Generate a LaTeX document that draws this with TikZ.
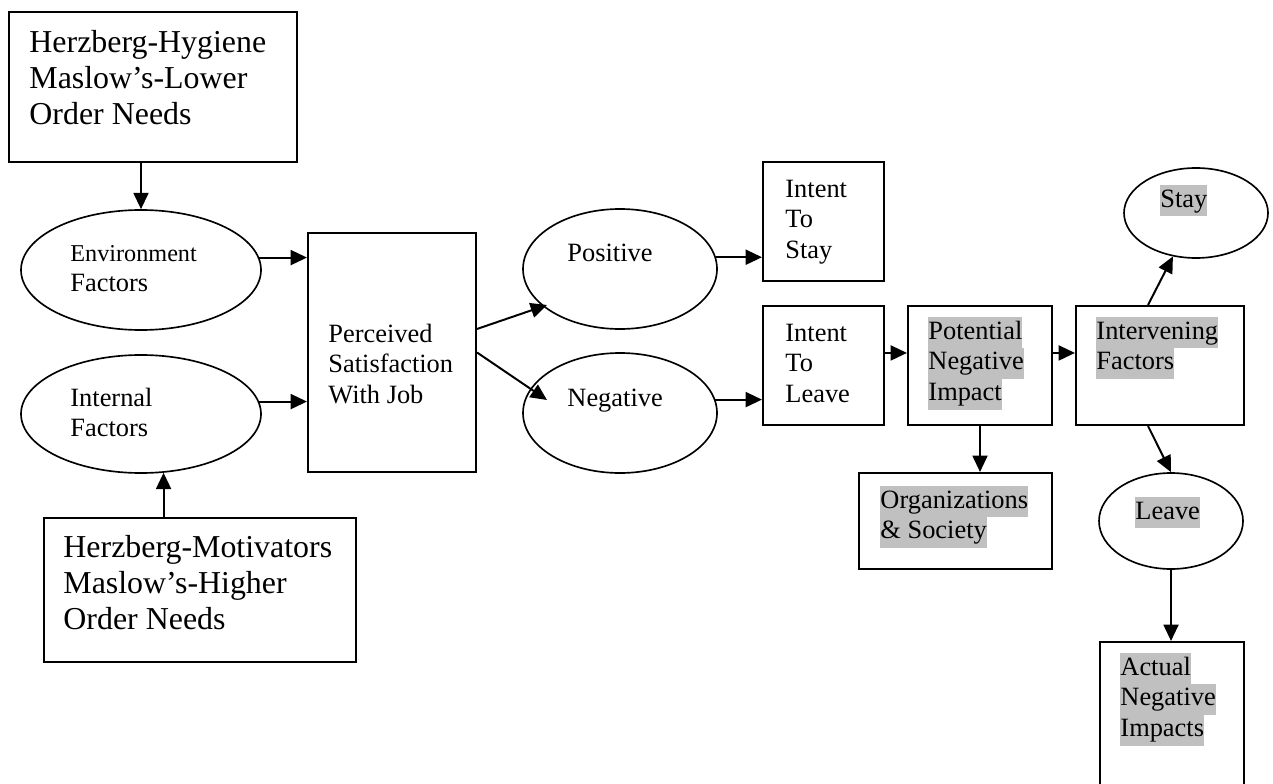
\documentclass[tikz,border=0pt]{standalone}
\usepackage{fontspec}
\setmainfont{Liberation Serif}
\usetikzlibrary{arrows.meta,shapes.geometric,calc}
\definecolor{hlgray}{HTML}{C0C0C0}
\newcommand{\pxu}{0.4545pt}
\newcommand{\twelve}{\fontsize{12}{14}\selectfont}
\newcommand{\fourteen}{\fontsize{14.5}{16.4}\selectfont}
\newcommand{\hlline}[1]{{\setlength{\fboxsep}{0pt}\colorbox{hlgray}{\strut #1}}}

\begin{document}
\begin{tikzpicture}[x=0.4545pt, y=-0.4545pt,
    box/.style={draw, rectangle, line width=0.95pt, inner sep=0pt},
    oval/.style={draw, ellipse, line width=0.75pt, inner sep=0pt},
    txt/.style={anchor=north west, inner sep=0pt, align=left, font=\twelve},
    conn/.style={-{Triangle[length=7.4pt,width=6.8pt]}, line width=0.9pt}]
  \useasboundingbox (0,0) rectangle (1273,783);
  \clip (0,0) rectangle (1273,783);

  % boxes
  \node[box, minimum width=288*\pxu, minimum height=150*\pxu] (hyg) at (153,87) {};
  \node[box, minimum width=312*\pxu, minimum height=144*\pxu] (mot) at (200,590) {};
  \node[box, minimum width=168*\pxu, minimum height=239*\pxu] (perc) at (392,352.5) {};
  \node[box, minimum width=121*\pxu, minimum height=119*\pxu] (stay) at (823.5,221.5) {};
  \node[box, minimum width=121*\pxu, minimum height=119*\pxu] (leave) at (823.5,365.5) {};
  \node[box, minimum width=144*\pxu, minimum height=119*\pxu] (pot) at (980,365.5) {};
  \node[box, minimum width=168*\pxu, minimum height=119*\pxu] (interv) at (1160,365.5) {};
  \node[box, minimum width=193*\pxu, minimum height=96*\pxu] (org) at (955.5,521) {};
  \node[box, minimum width=144*\pxu, minimum height=158*\pxu] (act) at (1172,721) {};

  % ovals
  \node[oval, minimum width=240*\pxu, minimum height=120*\pxu] (env) at (141,270) {};
  \node[oval, minimum width=240*\pxu, minimum height=118*\pxu] (int) at (141,414) {};
  \node[oval, minimum width=194*\pxu, minimum height=120*\pxu] (pos) at (620,269) {};
  \node[oval, minimum width=194*\pxu, minimum height=120*\pxu] (neg) at (620,413) {};
  \node[oval, minimum width=144*\pxu, minimum height=90*\pxu] (stayell) at (1196,213) {};
  \node[oval, minimum width=144*\pxu, minimum height=96*\pxu] (leaveell) at (1171,521) {};

  % texts
  \node[txt, font=\fourteen] (hygtxt) at (29,27) {\strut Herzberg-Hygiene\\Maslow’s-Lower\\Order Needs};
  \node[txt, font=\fourteen] (mottxt) at (63,532) {\strut Herzberg-Motivators\\Maslow’s-Higher\\Order Needs};
  \node[txt] (envtxt) at (70,239) {\strut{\fontsize{11}{14}\selectfont Environment}\\Factors};
  \node[txt] (inttxt) at (70,384) {\strut Internal\\Factors};
  \node[txt] (perctxt) at (328,320) {\strut Perceived\\Satisfaction\\With Job};
  \node[txt] (postxt) at (567,239) {\strut Positive};
  \node[txt] (negtxt) at (567,384) {\strut Negative};
  \node[txt] (staytxt) at (785,175) {\strut Intent\\To\\Stay};
  \node[txt] (leavetxt) at (785,319) {\strut Intent\\To\\Leave};
  \node[txt] (pottxt) at (928,317) {\hlline{Potential}\\\hlline{Negative}\\\hlline{Impact}};
  \node[txt] (intvtxt) at (1096,317) {\hlline{Intervening}\\\hlline{Factors}};
  \node[txt] (stayelltxt) at (1160,185) {\hlline{Stay}};
  \node[txt] (orgtxt) at (880,486) {\hlline{Organizations}\\\hlline{\& Society}};
  \node[txt] (leaveelltxt) at (1135,497) {\hlline{Leave}};
  \node[txt] (acttxt) at (1120,653) {\hlline{Actual}\\\hlline{Negative}\\\hlline{Impacts}};

  % connectors
  \draw[conn] (hyg.south -| env.north) -- (env.north);
  \draw[conn] (mot.north -| int.-69) -- (int.-69);
  \draw[conn] (env.6) -- (env.6 -| perc.west);
  \draw[conn] (int.6) -- (int.6 -| perc.west);
  \draw[conn] ([yshift=10.7pt]perc.east) -- ($(pos.center)+(-73,36)$);
  \draw[conn] (perc.east) -- ($(neg.center)+(-73,-13)$);
  \draw[conn] (pos.7) -- (pos.7 -| stay.west);
  \draw[conn] (neg.8) -- (neg.8 -| leave.west);
  \draw[conn] ([yshift=5.7pt]leave.east) -- ([yshift=5.7pt]pot.west);
  \draw[conn] ([yshift=5.7pt]pot.east) -- ([yshift=5.7pt]interv.west);
  \draw[conn] ([xshift=-5.45pt]interv.north) -- (stayell.242);
  \draw[conn] ([xshift=-5.45pt]interv.south) -- (leaveell.north);
  \draw[conn] (pot.south) -- (pot.south |- org.north);
  \draw[conn] (leaveell.south) -- (leaveell.south |- act.north);
\end{tikzpicture}
\end{document}
